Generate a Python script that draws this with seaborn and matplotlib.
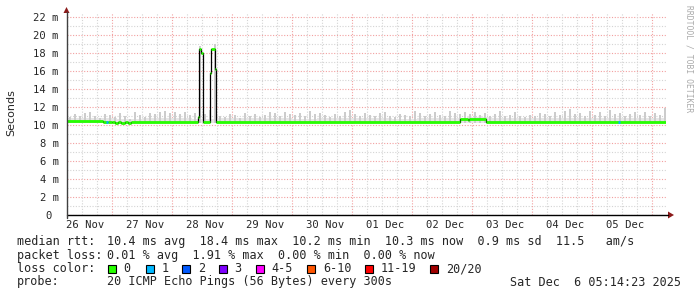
import matplotlib
matplotlib.use("Agg")
import matplotlib.pyplot as plt
import seaborn as sns
import numpy as np
import pandas as pd

# ---------------- data ----------------
# hours since 26 Nov 00:00
median_start_h = [5.68, 20.3, 22.3, 23.9, 24.9, 26.3, 27.5, 29.1, 30.3, 31.3,
                  58.1, 58.7, 59.3, 60.1, 62.9, 63.5, 65.1, 65.5,
                  163.0, 166.1, 166.7, 173.3]
median_ms = [10.40, 10.33, 10.38, 10.28, 10.22, 10.30, 10.22, 10.32, 10.25, 10.30,
             10.90, 18.45, 18.00, 10.35, 15.80, 18.45, 16.20, 10.30,
             10.62, 10.55, 10.62, 10.28]
end_h = 245.4

loss1_h = [22.0, 226.7]          # short segments with 1 lost ping
loss1_ms = [10.38, 10.28]

smoke_top = [10.9, 11.2, 11.0, 11.3, 11.5, 11.0, 10.8, 11.2, 11.1, 10.9,
             11.3, 11.0, 10.7, 11.4, 11.1, 10.9, 11.3, 11.2, 11.4, 11.6,
             11.3, 11.5, 11.2, 11.4, 11.1, 11.3, 18.8, 11.2, 11.7, 19.0,
             11.0, 10.9, 11.2, 11.1, 10.8, 11.3, 11.0, 11.2, 10.9, 11.1,
             11.5, 11.3, 11.0, 11.4, 11.2, 11.1, 11.3, 11.0, 11.6, 11.2,
             11.3, 11.1, 10.9, 11.2, 11.0, 11.4, 11.7, 11.2, 11.0, 11.3,
             11.1, 11.0, 11.3, 11.5, 11.0, 10.9, 11.2, 11.1, 11.0, 11.6,
             11.3, 11.0, 11.2, 11.5, 11.1, 11.0, 11.6, 11.3, 11.2, 11.4,
             11.2, 11.5, 11.1, 11.3, 11.0, 11.2, 11.6, 11.0, 11.1, 11.4,
             11.0, 10.9, 11.1, 11.0, 11.3, 11.2, 11.0, 11.4, 11.1, 11.6,
             11.8, 11.2, 11.3, 11.0, 11.6, 11.1, 11.4, 11.0, 11.7, 11.2,
             11.3, 11.0, 11.2, 11.5, 11.1, 11.4, 11.0, 11.3, 11.1, 11.9]
smoke_start_h = 6.0
smoke_bin_h = 2.0

band_top = [10.75, 10.8, 10.7, 10.75, 10.8, 10.7, 10.75, 10.8, 10.75, 10.7,
            10.75, 10.8, 10.75, 10.7, 10.8, 10.75, 10.9, 10.8, 10.75, 10.8,
            10.75, 10.8, 10.75, 10.8]
band_bin_h = 10.0

day_labels = ["26 Nov", "27 Nov", "28 Nov", "29 Nov", "30 Nov",
              "01 Dec", "02 Dec", "03 Dec", "04 Dec", "05 Dec"]
y_ticks = list(range(0, 23, 2))
y_labels = ["0 "] + [f"{v} m" for v in y_ticks[1:]]

loss_labels = ["0", "1", "2", "3", "4-5", "6-10", "11-19", "20/20"]
loss_colors = ["#26ff00", "#00b8ff", "#0059ff", "#7e00ff", "#ff00ff",
               "#ff5500", "#ff0000", "#a00000"]

# ---------------- figure ----------------
sns.set_style("white")
plt.rcParams['font.family'] = ['DejaVu Sans Mono', 'DejaVu Sans']
W, H = 697, 297
fig = plt.figure(figsize=(W / 100, H / 100), dpi=100)
fig.patch.set_facecolor("white")

L, R, B, T = 66.5, 666.0, 214.6, 13.0
ax = fig.add_axes([L / W, (H - B) / H, (R - L) / W, (B - T) / H])
xmin = 24 + (L - 112.3) / 2.5
xmax = 24 + (R - 112.3) / 2.5
ax.set_xlim(xmin, xmax)
ax.set_ylim(0, (B - T) / 8.96)
ax.set_facecolor("white")

# grid
for v in np.arange(0, 23, 1):
    major = (v % 2 == 0)
    ax.axhline(v, color="#f2a0a0" if major else "#d4d4d4", lw=0.8,
               ls=(0, (1, 1.5)), zorder=1)
for h in np.arange(6, 246, 6):
    major = (h % 24 == 0)
    ax.axvline(h, color="#f2a0a0" if major else "#d4d4d4", lw=0.8,
               ls=(0, (1, 1.5)), zorder=1)

# smoke band
band_x = [smoke_start_h + i * band_bin_h for i in range(len(band_top))]
ax.bar(band_x, [t - 10.2 for t in band_top], bottom=10.2, width=band_bin_h,
       align="edge", color="#e6e6e6", lw=0, zorder=2)
# smoke spikes
smoke_x = [smoke_start_h + (i + 0.5) * smoke_bin_h for i in range(len(smoke_top))]
ax.bar(smoke_x, [t - 10.2 for t in smoke_top], bottom=10.2, width=0.8,
       color="#cccccc", lw=0, zorder=2)

# median step line (black) via seaborn
step_df = pd.DataFrame({"h": median_start_h + [end_h],
                        "ms": median_ms + [median_ms[-1]]})
sns.lineplot(data=step_df, x="h", y="ms", drawstyle="steps-post",
             color="black", lw=0.9, ax=ax, zorder=3)
# green horizontal segments
ends = median_start_h[1:] + [end_h]
for s, e, v in zip(median_start_h, ends, median_ms):
    ax.plot([s, e], [v, v], color=loss_colors[0], lw=2.0,
            solid_capstyle="butt", zorder=4)
for h, v in zip(loss1_h, loss1_ms):
    ax.plot([h - 0.4, h + 0.4], [v, v], color=loss_colors[1], lw=2.0,
            solid_capstyle="butt", zorder=5)

# axes decorations
for sp in ["top", "right", "bottom", "left"]:
    ax.spines[sp].set_visible(False)
ax.set_xticks([])
ax.set_yticks(y_ticks)
ax.set_yticklabels(y_labels, fontsize=7.6, family="DejaVu Sans Mono")
ax.tick_params(axis="y", length=4, width=0.8, pad=1.5, color="#404040")
ax.set_ylabel("")
ax.set_xlabel("")

def px(x, y):
    return x / W, 1 - y / H

# axis lines and arrows
fig.add_artist(plt.Line2D([px(66.5, 0)[0], px(668, 0)[0]],
                          [px(0, 215)[1]] * 2, color="black", lw=1.0))
fig.add_artist(plt.Line2D([px(66.5, 0)[0]] * 2,
                          [px(0, 218)[1], px(0, 12)[1]], color="#404040", lw=1.0))
fig.add_artist(plt.Polygon([px(668, 211.5), px(674, 215), px(668, 218.5)],
                           closed=True, color="#8b1a1a", lw=0))
fig.add_artist(plt.Polygon([px(63.5, 13), px(66.5, 7), px(69.5, 13)],
                           closed=True, color="#8b1a1a", lw=0))

# x labels at noon
for i, lab in enumerate(day_labels):
    h = 12 + 24 * i
    xp = 112.3 + (h - 24) * 2.5 + 3
    fig.text(*px(xp, 224.5), lab, ha="center", va="center", fontsize=7.6)

fig.text(*px(11, 113), "Seconds", rotation=90, ha="center", va="center",
         fontsize=8, family="DejaVu Sans")
fig.text(*px(688.5, 5), "RRDTOOL / TOBI OETIKER", rotation=270, ha="center",
         va="top", fontsize=5.8, color="#aaaaaa")

fs = 8.5
fig.text(*px(17, 241.5), "median rtt:", ha="left", va="center", fontsize=fs)
fig.text(*px(107, 241.5),
         "10.4 ms avg  18.4 ms max  10.2 ms min  10.3 ms now  0.9 ms sd  11.5   am/s",
         ha="left", va="center", fontsize=fs)
fig.text(*px(17, 255), "packet loss:", ha="left", va="center", fontsize=fs)
fig.text(*px(107, 255), "0.01 % avg  1.91 % max  0.00 % min  0.00 % now",
         ha="left", va="center", fontsize=fs)
fig.text(*px(17, 268.5), "loss color:", ha="left", va="center", fontsize=fs)
box_x = [108, 145.7, 182.3, 219, 256.3, 307.3, 365, 430.3]
for bx, lab, col in zip(box_x, loss_labels, loss_colors):
    fig.add_artist(plt.Rectangle(px(bx, 273), 8 / W, 8 / H, facecolor=col,
                                 edgecolor="black", lw=0.8))
    fig.text(*px(bx + 15.5, 268.5), lab, ha="left", va="center", fontsize=fs)
fig.text(*px(17, 282), "probe:", ha="left", va="center", fontsize=fs)
fig.text(*px(107, 282), "20 ICMP Echo Pings (56 Bytes) every 300s",
         ha="left", va="center", fontsize=fs)
fig.text(*px(681, 282), "Sat Dec  6 05:14:23 2025", ha="right", va="center",
         fontsize=fs)

fig.savefig("out.png", dpi=100, facecolor="white")
